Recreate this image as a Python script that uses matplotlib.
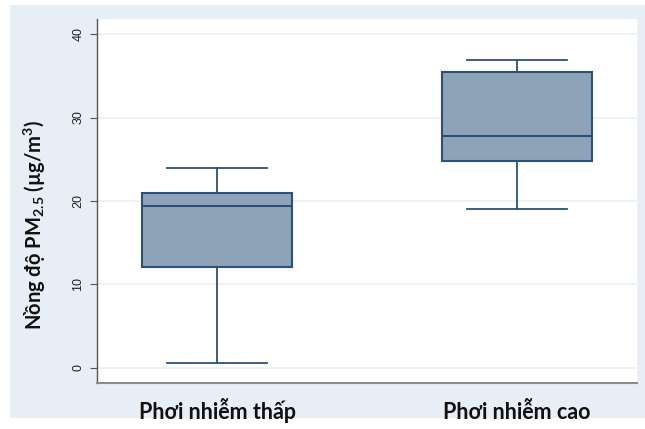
import matplotlib
matplotlib.use('Agg')
import matplotlib.pyplot as plt

# data
groups = ['Phơi nhiễm thấp', 'Phơi nhiễm cao']
whisker_low = [0.6, 19.0]
q1 = [12.1, 24.75]
median = [19.4, 27.75]
q3 = [21.0, 35.4]
whisker_high = [24.0, 36.9]
yticks = [0, 10, 20, 30, 40]

plt.rcParams['mathtext.fontset'] = 'custom'
plt.rcParams['mathtext.rm'] = 'Lato'
plt.rcParams['mathtext.bf'] = 'Lato:bold'

fig = plt.figure(figsize=(6.45, 4.29), dpi=100)
fig.patch.set_facecolor('white')
W, H = 645, 429

# light blue outer panel, behind the plot
bg = fig.add_axes([10 / W, 11 / H, 635 / W, 413 / H], zorder=-1)
bg.set_facecolor('#E8EEF5')
bg.set_xticks([])
bg.set_yticks([])
for s in bg.spines.values():
    s.set_visible(False)

ax = fig.add_axes([97 / W, 1 - 383 / H, 540 / W, 364 / H], zorder=1)
ax.set_facecolor('white')

stats = []
for i in range(len(groups)):
    stats.append(dict(whislo=whisker_low[i], q1=q1[i], med=median[i],
                      q3=q3[i], whishi=whisker_high[i], fliers=[], label=groups[i]))

edge = '#2C5078'
ax.bxp(stats, positions=[1, 2], widths=0.5, patch_artist=True, showfliers=False,
       capwidths=0.333,
       boxprops=dict(facecolor='#8EA3B8', edgecolor=edge, linewidth=1.5),
       medianprops=dict(color=edge, linewidth=1.5),
       whiskerprops=dict(color=edge, linewidth=1.3),
       capprops=dict(color=edge, linewidth=1.3))

ax.set_xlim(0.6, 2.4)
ax.set_ylim(-1.8, 41.8)
ax.set_yticks(yticks)
ax.set_yticklabels([str(t) for t in yticks], rotation=90, va='center',
                   fontsize=9, family='Liberation Sans', color='#222222')
ax.yaxis.grid(True, color='#EAF0F0', linewidth=1.2)
ax.set_axisbelow(True)
ax.tick_params(axis='y', length=5, width=0.8, color='#555555', pad=4)
ax.tick_params(axis='x', length=0, pad=26)

ax.set_xticks([1, 2])
ax.set_xticklabels(groups, fontsize=15.5, fontweight='bold', va='baseline',
                   family=['Lato', 'Noto Sans'], color='#111111')

ax.set_ylabel('Nồng độ PM$_{\\mathbf{2.5}}$ (µg/m$^{\\mathbf{3}}$)', fontsize=14.5,
              fontweight='bold', family=['Lato', 'Noto Sans'], color='#111111')
ax.yaxis.set_label_coords(-0.091, 0.434)

ax.spines['top'].set_visible(False)
ax.spines['right'].set_color('#F0F3F5')
ax.spines['left'].set_color('#555555')
ax.spines['left'].set_linewidth(1.0)
ax.spines['bottom'].set_color('#8A8A8A')
ax.spines['bottom'].set_linewidth(1.5)

fig.savefig('out.png', dpi=100, facecolor='white')
